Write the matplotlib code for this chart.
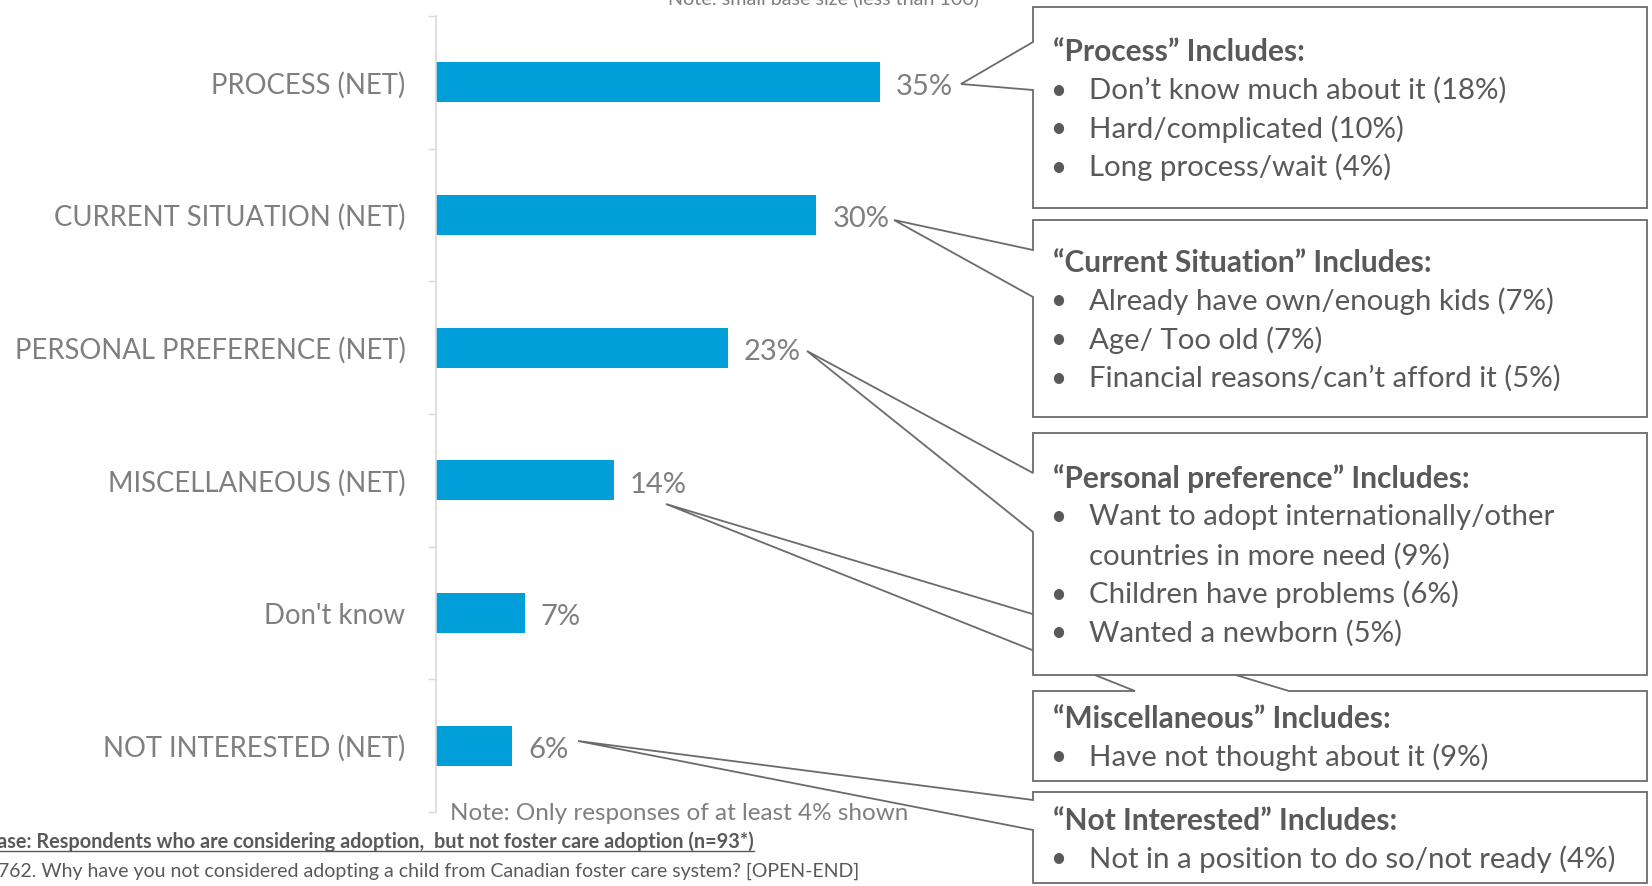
import matplotlib
matplotlib.use("Agg")
import matplotlib.pyplot as plt
from matplotlib.patches import Polygon

# ---------------- data ----------------
categories = ["PROCESS (NET)", "CURRENT SITUATION (NET)", "PERSONAL PREFERENCE (NET)",
              "MISCELLANEOUS (NET)", "Don't know", "NOT INTERESTED (NET)"]
values = [35, 30, 23, 14, 7, 6]

box_titles = ["\u201cProcess\u201d Includes:",
              "\u201cCurrent Situation\u201d Includes:",
              "\u201cPersonal preference\u201d Includes:",
              "\u201cMiscellaneous\u201d Includes:",
              "\u201cNot Interested\u201d Includes:"]
box_items = [
    ["Don\u2019t know much about it (18%)", "Hard/complicated (10%)", "Long process/wait (4%)"],
    ["Already have own/enough kids (7%)", "Age/ Too old (7%)", "Financial reasons/can\u2019t afford it (5%)"],
    ["Want to adopt internationally/other\ncountries in more need (9%)", "Children have problems (6%)",
     "Wanted a newborn (5%)"],
    ["Have not thought about it (9%)"],
    ["Not in a position to do so/not ready (4%)"],
]

note_top = "Note: small base size (less than 100)"
note_bottom = "Note: Only responses of at least 4% shown"
base_text = "Base: Respondents who are considering adoption,  but not foster care adoption (n=93*)"
question_text = "762. Why have you not considered adopting a child from Canadian foster care system? [OPEN-END]"

# ---------------- style ----------------
W, H = 1652, 886
FONT = "Lato"
BAR_C = "#009FDA"
LBL_C = "#7F7F7F"
BOX_TXT = "#595959"
EDGE_C = "#6B6B6B"
AXIS_C = "#D9D9D9"

plt.rcParams["font.family"] = [FONT, "DejaVu Sans"]

fig = plt.figure(figsize=(W / 100, H / 100), dpi=100)
fig.patch.set_facecolor("white")

# main bar axes (pixel layout)
ax_left, ax_top, ax_bottom = 436, 16, 812
px_per_pct = 12.68
xmax = 40
ax = fig.add_axes([ax_left / W, 1 - ax_bottom / H, xmax * px_per_pct / W, (ax_bottom - ax_top) / H])
ypos = list(range(len(categories)))
ax.barh(ypos, values, height=0.30, color=BAR_C, zorder=2)
ax.set_ylim(len(categories) - 0.5, -0.5)
ax.set_xlim(0, xmax)
for s in ["top", "right", "bottom"]:
    ax.spines[s].set_visible(False)
ax.spines["left"].set_color(AXIS_C)
ax.spines["left"].set_linewidth(1.2)
ax.set_xticks([])
ax.set_yticks(ypos)
ax.set_yticklabels(categories, fontsize=19.8, color=LBL_C)
ax.tick_params(axis="y", which="major", length=0, pad=22)
ax.set_yticks([i - 0.5 for i in range(len(categories) + 1)], minor=True)
ax.tick_params(axis="y", which="minor", length=5.5, width=1.0, color=AXIS_C, direction="out")
for y, v in zip(ypos, values):
    ax.annotate(f"{v}%", (v, y), xytext=(11.5, -3), textcoords="offset points",
                va="center", ha="left", fontsize=21, color=LBL_C)

# overlay axes in pixel coordinates
ov = fig.add_axes([0, 0, 1, 1])
ov.set_xlim(0, W)
ov.set_ylim(H, 0)
ov.axis("off")

BL, BR = 1033, 1647
# (top, bottom, pointer tip, pointer base points, title y)
boxes = [
    dict(t=7, b=208, tip=(961, 84), side="left", base=(42, 90), ty=52),
    dict(t=220, b=417, tip=(894, 220), side="left", base=(250, 297), ty=263),
    dict(t=433, b=675, tip=(807, 351), side="left", base=(473, 532), ty=479),
    dict(t=691, b=781, tip=(666, 504), side="top", base=(1135, 1289), ty=719),
    dict(t=792, b=883, tip=(578, 741), side="left", base=(800, 830), ty=821),
]
zorders = [5, 5, 6, 4, 5]
LINE_H = 38
for i, bx in enumerate(boxes):
    t, b = bx["t"], bx["b"]
    if bx["side"] == "left":
        y1, y2 = bx["base"]
        pts = [(BL, t), (BR, t), (BR, b), (BL, b), (BL, y2), bx["tip"], (BL, y1)]
    else:
        x1, x2 = bx["base"]
        pts = [(BL, t), (x1, t), bx["tip"], (x2, t), (BR, t), (BR, b), (BL, b)]
    poly = Polygon(pts, closed=True, facecolor="white", edgecolor=EDGE_C, linewidth=1.3,
                   joinstyle="miter", zorder=zorders[i])
    ov.add_patch(poly)
    z = zorders[i] + 0.5
    ov.text(1053, bx["ty"], box_titles[i], fontsize=21.5, fontweight="bold", color=BOX_TXT,
            va="center", ha="left", zorder=z)
    y = bx["ty"] + LINE_H + 0.5
    for item in box_items[i]:
        lines = item.split("\n")
        ov.text(1058, y, "\u2022", fontsize=20, color=BOX_TXT, va="center", ha="center", zorder=z)
        for ln in lines:
            ov.text(1089, y, ln, fontsize=21.2, color=BOX_TXT, va="center", ha="left", zorder=z)
            y += LINE_H + 0.5

# notes and footer
ov.text(824, 4, note_top, fontsize=14.2, color=LBL_C, ha="center", va="baseline", zorder=10)
ov.text(450, 813, note_bottom, fontsize=17.5, color=LBL_C, ha="left", va="center", zorder=10)
bt = ov.text(754, 842, base_text, fontsize=14.3, fontweight="bold", color=BOX_TXT,
             ha="right", va="center", zorder=10)
ov.text(859, 871, question_text, fontsize=14.0, color=BOX_TXT, ha="right", va="center", zorder=10)

# underline for base text
fig.canvas.draw()
bb = bt.get_window_extent(renderer=fig.canvas.get_renderer())
uy = H - bb.y0 - 1
ov.plot([max(bb.x0, 0), bb.x1], [uy, uy], color=BOX_TXT, linewidth=1.0, zorder=10)

fig.savefig("out.png", dpi=100, facecolor="white")
